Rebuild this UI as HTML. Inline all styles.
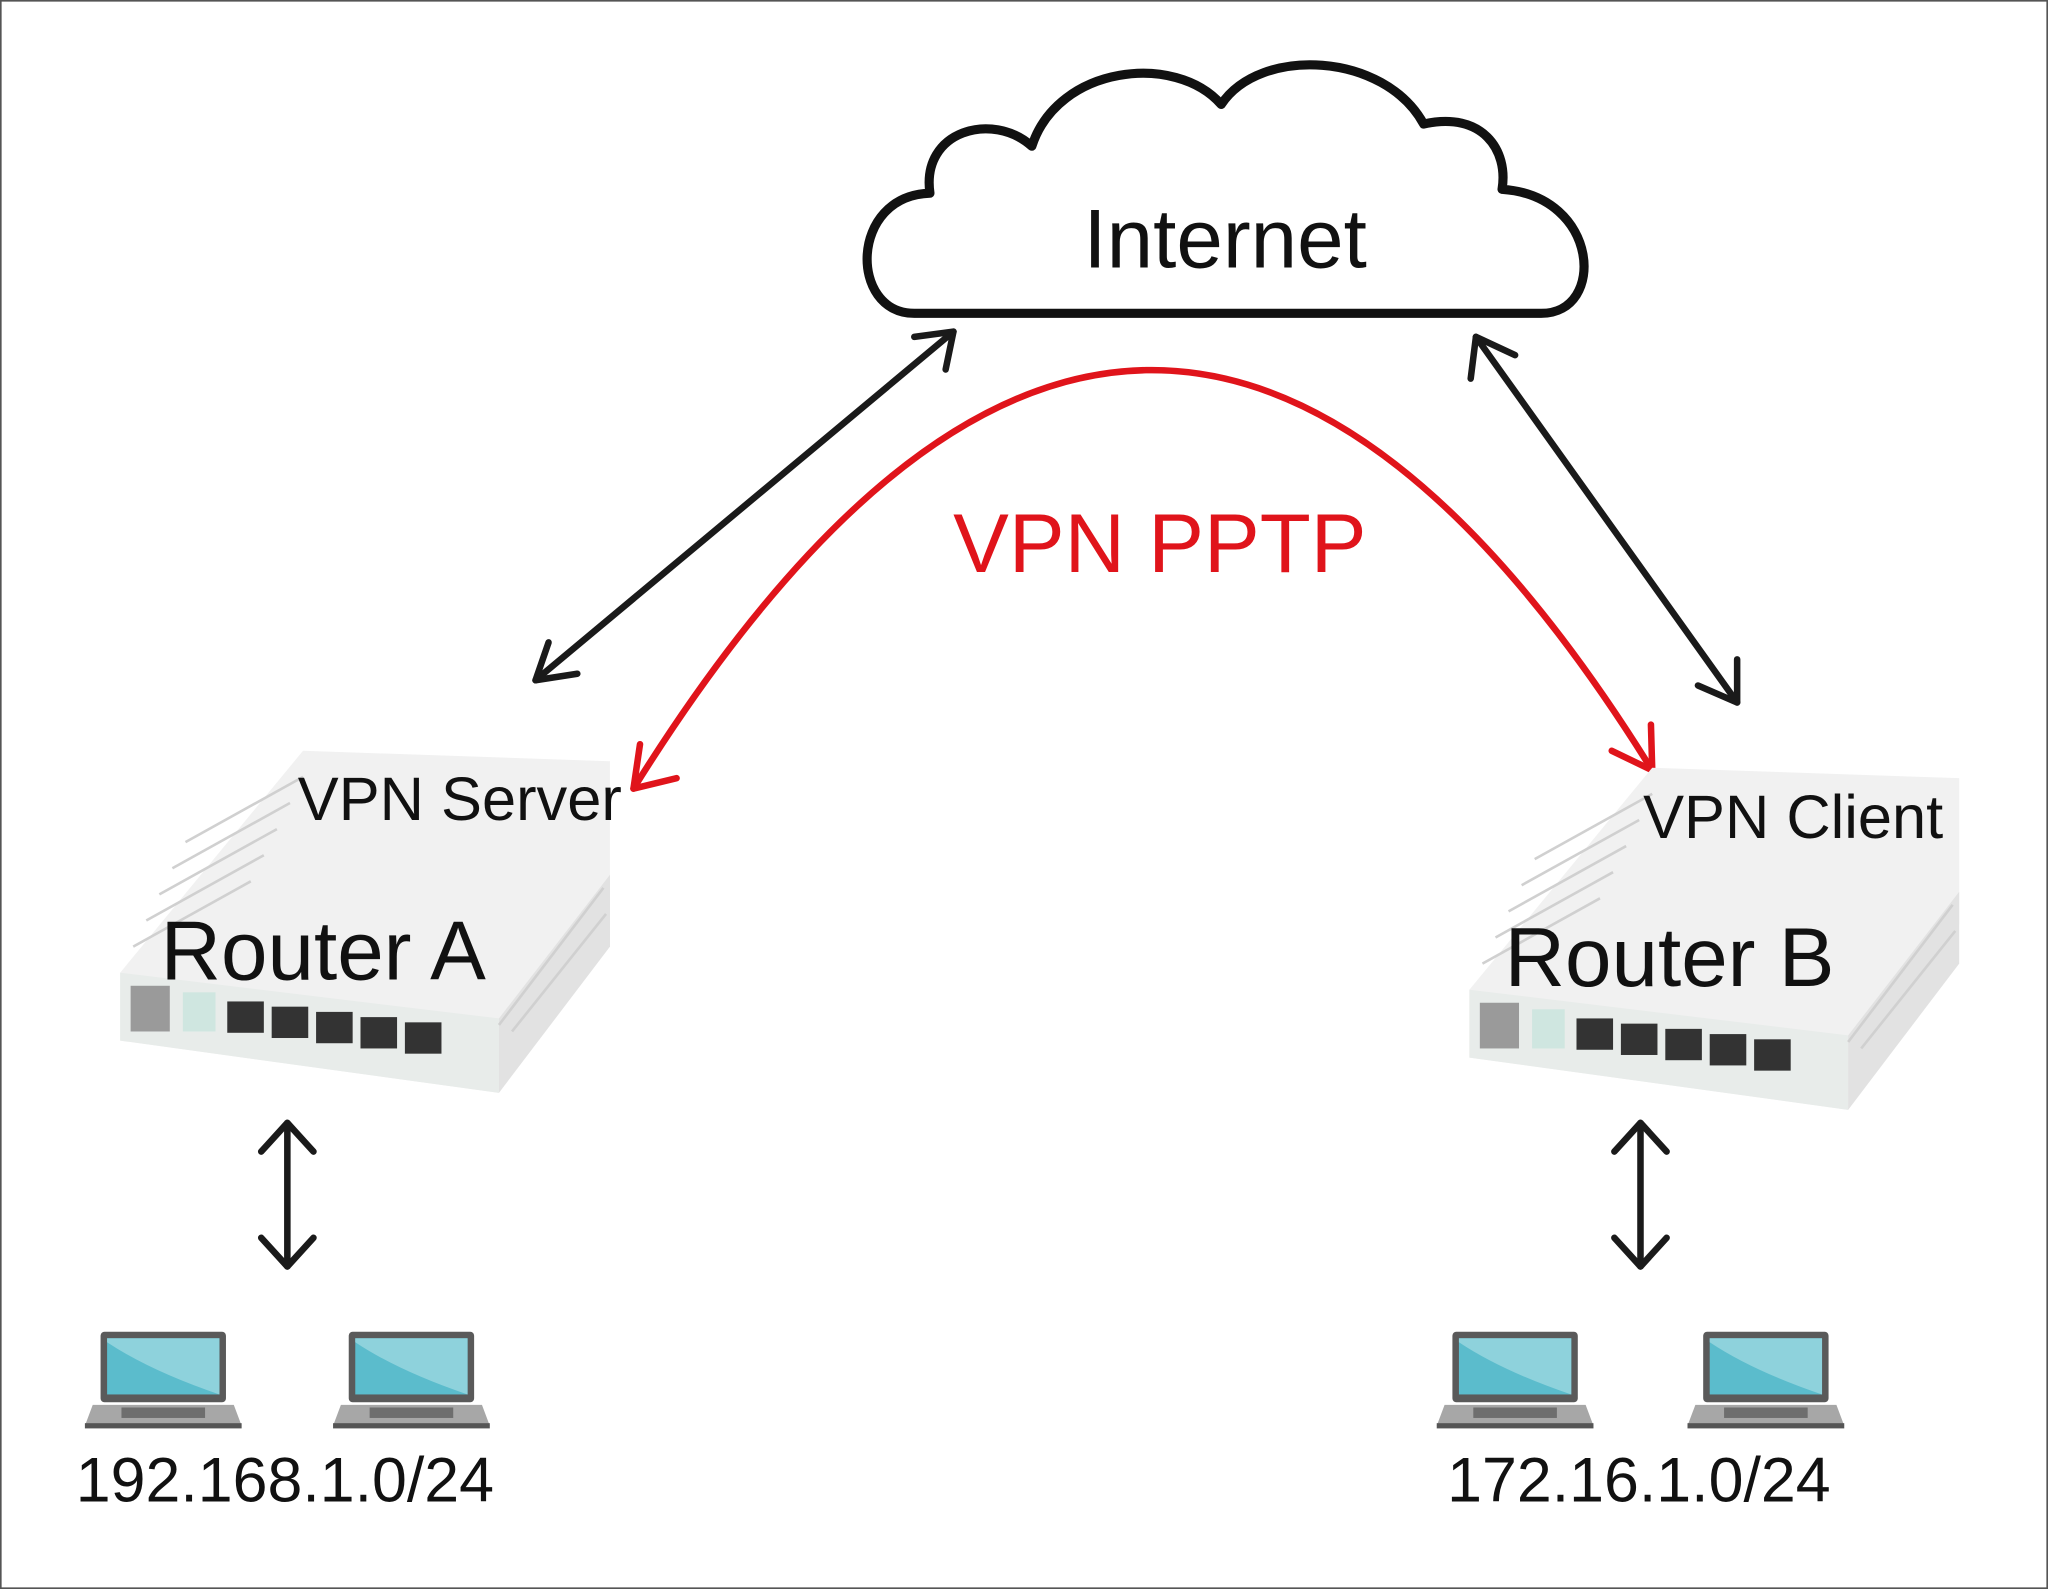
<!DOCTYPE html>
<html><head><style>
html,body{margin:0;padding:0;background:#fff;}
svg{display:block;}
text{font-family:"Liberation Sans",Arial,sans-serif;}
</style></head><body>
<svg width="2048" height="1589" viewBox="0 0 1568 1217" preserveAspectRatio="none" xmlns="http://www.w3.org/2000/svg">
<rect x="0.5" y="0.5" width="1567" height="1216" fill="#fff" stroke="#555" stroke-width="1.5"/>
<defs>
<g id="router">
 <polygon points="150,0 385,8 385,120 300,262 10,222 10,170" fill="#f1f1f1"/>
 <polygon points="10,170 300,205 300,262 10,222" fill="#e8ecea"/>
 <polygon points="300,205 385,95 385,150 300,262" fill="#e2e2e2"/>
 <g stroke="#d0d0d0" stroke-width="2">
  <line x1="60" y1="70" x2="150" y2="20"/><line x1="50" y1="90" x2="140" y2="40"/><line x1="40" y1="110" x2="130" y2="60"/><line x1="30" y1="130" x2="120" y2="80"/><line x1="20" y1="150" x2="110" y2="100"/>
  <line x1="300" y1="210" x2="380" y2="105"/><line x1="310" y1="215" x2="382" y2="125"/>
 </g>
 <rect x="18" y="180" width="30" height="35" fill="#9a9a9a"/>
 <rect x="58" y="185" width="25" height="30" fill="#cfe6e0"/>
 <g fill="#333">
  <rect x="92" y="192" width="28" height="24"/><rect x="126" y="196" width="28" height="24"/><rect x="160" y="200" width="28" height="24"/><rect x="194" y="204" width="28" height="24"/><rect x="228" y="208" width="28" height="24"/>
 </g>
</g>
<g id="laptop">
 <rect x="12" y="0" width="96" height="54" rx="3" fill="#5a5a5a"/>
 <rect x="17" y="5" width="86" height="43" fill="#5bbccc"/>
 <path d="M17,5 L103,5 L103,48 Q50,30 17,8 Z" fill="#8ed2dc"/>
 <path d="M6,56 L114,56 L120,72 L0,72 Z" fill="#a7a7a7"/>
 <rect x="28" y="58" width="64" height="8" fill="#6e6e6e"/>
 <rect x="0" y="70" width="120" height="4" fill="#555"/>
</g>
</defs>

<path d="M700,240 C650,240 650,150 712,148 C705,100 760,85 790,112 C810,50 900,40 935,80 C965,35 1060,40 1090,95 C1135,85 1155,115 1150,145 C1225,150 1230,240 1180,240 Z" fill="#fff" stroke="#111" stroke-width="7" stroke-linejoin="round"/>
<text x="938" y="205" font-size="64" text-anchor="middle" fill="#111">Internet</text>

<g stroke="#1a1a1a" stroke-width="5" fill="none" stroke-linecap="round" stroke-linejoin="round">
 <line x1="730" y1="254" x2="410" y2="521"/>
 <polyline points="700,258 730,254 724,283"/>
 <polyline points="420,492 410,521 442,516"/>
 <line x1="1130" y1="258" x2="1330" y2="538"/>
 <polyline points="1126,290 1130,258 1160,272"/>
 <polyline points="1300,525 1330,538 1330,505"/>
 <line x1="220" y1="860" x2="220" y2="970"/>
 <polyline points="200,882 220,860 240,882"/>
 <polyline points="200,948 220,970 240,948"/>
 <line x1="1256" y1="860" x2="1256" y2="970"/>
 <polyline points="1236,882 1256,860 1276,882"/>
 <polyline points="1236,948 1256,970 1276,948"/>
</g>

<g stroke="#e0141b" stroke-width="5" fill="none" stroke-linecap="round" stroke-linejoin="round">
 <path d="M485,604 Q880,-30 1265,590"/>
 <polyline points="490,570 485,604 518,596"/>
 <polyline points="1234,575 1265,590 1264,555"/>
</g>
<text x="888" y="438" font-size="64" text-anchor="middle" fill="#e0141b">VPN PPTP</text>

<use href="#router" x="82" y="575"/>
<use href="#router" x="1115" y="588"/>
<text x="228" y="628" font-size="47" fill="#111">VPN Server</text>
<text x="123" y="750" font-size="64" fill="#111">Router A</text>
<text x="1258" y="642" font-size="47" fill="#111">VPN Client</text>
<text x="1152" y="755" font-size="64" fill="#111">Router B</text>

<use href="#laptop" x="65" y="1020"/>
<use href="#laptop" x="255" y="1020"/>
<use href="#laptop" x="1100" y="1020"/>
<use href="#laptop" x="1292" y="1020"/>
<text x="58" y="1150" font-size="48" fill="#111">192.168.1.0/24</text>
<text x="1108" y="1150" font-size="48" fill="#111">172.16.1.0/24</text>
</svg>
</body></html>
